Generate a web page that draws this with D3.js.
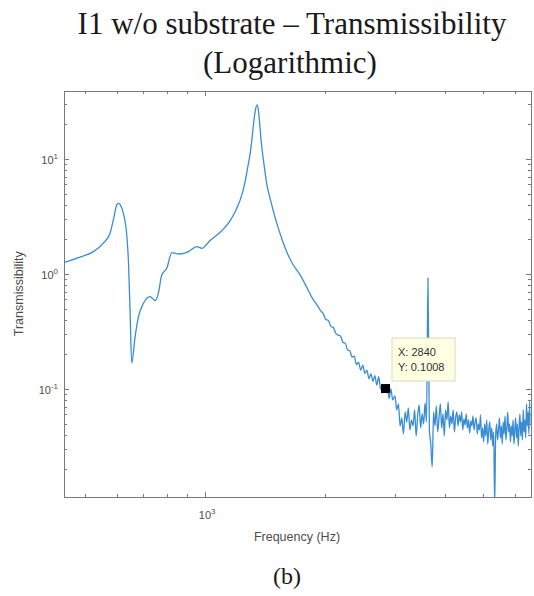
<!DOCTYPE html>
<html>
<head>
    <meta charset="utf-8">
    <title>I1 w/o substrate - Transmissibility</title>
    <script type="text/javascript" src="https://cdnjs.cloudflare.com/ajax/libs/d3/7.8.5/d3.min.js"></script>
    <style type="text/css">
        html, body {
            margin: 0;
            padding: 0;
            background: white;
        }
        svg text {
            font-family: Arial, 'Liberation Sans', sans-serif;
        }
        .title text {
            font-family: 'Times New Roman', 'Liberation Serif', serif;
            fill: #1a1a1a;
        }
        .axis path,
        .axis line {
            stroke: #7a7a7a;
            shape-rendering: crispEdges;
        }
    </style>
</head>
<body>
<svg id="chart" width="534" height="596"></svg>
<script type="text/javascript">
    // frequency (Hz) and transmissibility
    var freq = [
        440, 485, 524, 555, 577, 588, 600, 606, 612, 623, 636, 642, 648, 654, 667, 680,
        700, 727, 749, 763, 778, 801, 825, 845, 865, 908, 953, 981, 1029, 1091, 1130, 1156,
        1178, 1200, 1225, 1245, 1260, 1280, 1297, 1310, 1322, 1335, 1350, 1360, 1370, 1380, 1390,
        1410, 1429, 1450, 1470, 1514, 1560, 1604, 1660, 1733, 1800, 1871, 1910,
        1950, 1980, 2010, 2040, 2070, 2100, 2130, 2160, 2190, 2220, 2250, 2280, 2310, 2340,
        2370, 2400, 2430, 2460, 2490, 2520, 2550, 2580, 2610, 2640, 2670, 2700, 2730, 2760,
        2790, 2840, 2870, 2900, 2930, 2960,
        3000, 3030, 3060, 3090, 3120, 3150, 3180, 3210, 3240, 3270, 3300, 3330, 3360, 3390,
        3420, 3450, 3480, 3510, 3540, 3570, 3600, 3630, 3660, 3690, 3720, 3750, 3780, 3810,
        3840, 3870, 3900, 3930, 3960, 3990, 4020, 4050, 4080, 4110, 4140, 4170, 4200, 4230,
        4260, 4290, 4320, 4350, 4380, 4410, 4440, 4470, 4500, 4530, 4560, 4590, 4620, 4650,
        4680, 4710, 4740, 4770, 4800, 4830, 4860, 4890, 4920, 4950, 4980, 5010, 5040, 5070,
        5100, 5130, 5160, 5190, 5220, 5250, 5280, 5310, 5340, 5370, 5400, 5430, 5460, 5490,
        5520, 5550, 5580, 5610, 5640, 5670, 5700, 5730, 5760, 5790, 5820, 5850, 5880, 5910,
        5940, 5970, 6000, 6030, 6060, 6090, 6120, 6150, 6180, 6210, 6240, 6270, 6300, 6330,
        6360, 6390, 6420, 6450, 6480, 6510, 6540, 6570, 6600
    ];
    var trans = [
        1.25, 1.397, 1.563, 1.849, 2.26, 2.95, 3.98, 4.10, 3.98, 3.37, 2.11, 1.24, 0.458, 0.168, 0.285, 0.425,
        0.556, 0.635, 0.586, 0.680, 0.980, 1.12, 1.53, 1.50, 1.49, 1.56, 1.73, 1.67, 1.95, 2.3, 2.62, 2.9,
        3.25, 3.7, 4.4, 5.3, 6.3, 8.5, 11.0, 14.5, 19.5, 25.5, 29.5, 27.0, 21.0, 15.5, 12.2,
        8.3, 6.0, 4.8, 4.0, 2.75, 2.0, 1.55, 1.22, 0.98, 0.765, 0.594, 0.538,
        0.480, 0.452, 0.402, 0.394, 0.350, 0.342, 0.304, 0.294, 0.287, 0.254, 0.250, 0.218, 0.215, 0.189,
        0.193, 0.163, 0.171, 0.1457, 0.1607, 0.1367, 0.1455, 0.123, 0.135, 0.1164, 0.1305, 0.1083, 0.128, 0.0996,
        0.1047, 0.1008, 0.1086, 0.0828, 0.100, 0.0802,
        0.0869, 0.0657, 0.0741, 0.0477, 0.0560, 0.0406, 0.0631, 0.0516, 0.0684, 0.0440, 0.0538, 0.0477, 0.0657, 0.0390,
        0.0582, 0.0726, 0.0458, 0.0606, 0.0496, 0.0755, 0.0516, 0.923, 0.0440, 0.0332, 0.021, 0.0631, 0.0477, 0.0711,
        0.0423, 0.0560, 0.0741, 0.0458, 0.0606, 0.0390, 0.0657, 0.0538, 0.0771, 0.0458, 0.0582, 0.0496, 0.0657, 0.0423,
        0.0560, 0.0631, 0.0477, 0.0594, 0.0516, 0.0631, 0.0440, 0.0549, 0.0486, 0.0606, 0.0458, 0.0538, 0.0414, 0.0527,
        0.0477, 0.0582, 0.0440, 0.0516, 0.0560, 0.0406, 0.0496, 0.0440, 0.0594, 0.0375, 0.0458, 0.0346, 0.0496, 0.0390,
        0.0538, 0.0332, 0.0440, 0.0516, 0.0360, 0.0458, 0.0319, 0.0423, 0.0098, 0.0390, 0.0496, 0.0360, 0.0440, 0.0560,
        0.0375, 0.0477, 0.0332, 0.0516, 0.0406, 0.0582, 0.0360, 0.0458, 0.0631, 0.0423, 0.0496, 0.0346, 0.0477, 0.0390,
        0.0538, 0.0332, 0.0440, 0.0560, 0.0375, 0.0496, 0.0319, 0.0458, 0.0606, 0.0390, 0.0516, 0.0360, 0.0657, 0.0423,
        0.0538, 0.0375, 0.0741, 0.0477, 0.0631, 0.0406, 0.0802, 0.0496, 0.0606
    ];

    // axis limits and ticks
    var xLimits = [442, 6570],
        yLimits = [0.0115, 39.3];
    var xMajor = [1000],
        xMinor = [500, 600, 700, 800, 900, 2000, 3000, 4000, 5000, 6000];
    var yMajor = [0.1, 1, 10],
        yMinor = [0.02, 0.03, 0.04, 0.05, 0.06, 0.07, 0.08, 0.09,
                  0.2, 0.3, 0.4, 0.5, 0.6, 0.7, 0.8, 0.9,
                  2, 3, 4, 5, 6, 7, 8, 9, 20, 30];

    // data tip
    var tipX = 2840, tipY = 0.1008;

    var box = {left: 64, top: 90.5, right: 530.5, bottom: 497};
    var svg = d3.select("#chart");

    var x = d3.scaleLog().domain(xLimits).range([box.left, box.right]),
        y = d3.scaleLog().domain(yLimits).range([box.bottom, box.top]);

    // title
    var title = svg.append("g").attr("class", "title");
    title.append("text").attr("x", 292).attr("y", 34)
        .attr("text-anchor", "middle").style("font-size", "31px")
        .text("I1 w/o substrate \u2013 Transmissibility");
    title.append("text").attr("x", 290).attr("y", 73)
        .attr("text-anchor", "middle").style("font-size", "31px")
        .text("(Logarithmic)");

    // axes, ticks inward on all four sides (matlab box style)
    function drawAxis(axisFn, scale, major, minor, transform) {
        var g = svg.append("g").attr("class", "axis").attr("transform", transform);
        g.call(axisFn(scale).tickValues(minor).tickSizeInner(-3).tickSizeOuter(0).tickFormat(""));
        var g2 = svg.append("g").attr("class", "axis").attr("transform", transform);
        g2.call(axisFn(scale).tickValues(major).tickSizeInner(-5).tickSizeOuter(0).tickFormat(""));
        g2.select(".domain").remove();
        return g;
    }
    drawAxis(d3.axisBottom, x, xMajor, xMinor, "translate(0," + box.bottom + ")");
    drawAxis(d3.axisTop, x, xMajor, xMinor, "translate(0," + box.top + ")");
    drawAxis(d3.axisLeft, y, yMajor, yMinor, "translate(" + box.left + ",0)");
    drawAxis(d3.axisRight, y, yMajor, yMinor, "translate(" + box.right + ",0)");

    // tick labels as 10^n
    svg.selectAll(".ylab").data(yMajor).enter().append("text")
        .attr("class", "ylab")
        .attr("x", 58).attr("y", function(d) { return y(d) + 5; })
        .attr("text-anchor", "end")
        .style("font-size", "11px").style("fill", "#4d4d4d")
        .each(function(d) {
            var t = d3.select(this);
            t.append("tspan").text("10");
            t.append("tspan").attr("dy", -5).style("font-size", "8px")
                .text(Math.round(Math.log10(d)));
        });
    svg.selectAll(".xlab").data(xMajor).enter().append("text")
        .attr("class", "xlab")
        .attr("x", function(d) { return x(d) + 2; }).attr("y", 519)
        .attr("text-anchor", "middle")
        .style("font-size", "11px").style("fill", "#4d4d4d")
        .each(function(d) {
            var t = d3.select(this);
            t.append("tspan").text("10");
            t.append("tspan").attr("dy", -5).style("font-size", "8px")
                .text(Math.round(Math.log10(d)));
        });

    // axis titles
    svg.append("text").attr("x", 297).attr("y", 541)
        .attr("text-anchor", "middle").style("font-size", "12.5px").style("fill", "#4d4d4d")
        .text("Frequency (Hz)");
    svg.append("text").attr("transform", "translate(23," + ((box.top + box.bottom) / 2) + ") rotate(-90)")
        .attr("text-anchor", "middle").style("font-size", "12.5px").style("fill", "#4d4d4d")
        .text("Transmissibility");

    // the curve, clipped to the axes
    svg.append("clipPath").attr("id", "plotclip").append("rect")
        .attr("x", box.left).attr("y", box.top)
        .attr("width", box.right - box.left).attr("height", box.bottom - box.top);

    var line = d3.line()
        .x(function(d, i) { return x(freq[i]); })
        .y(function(d) { return y(d); })
        .curve(d3.curveMonotoneX);

    svg.append("path")
        .datum(trans)
        .attr("clip-path", "url(#plotclip)")
        .attr("d", line)
        .attr("fill", "none")
        .attr("stroke", "#3a8dd3")
        .attr("stroke-width", 1.3)
        .attr("stroke-linejoin", "round");

    // data tip marker + box
    svg.append("rect")
        .attr("x", x(tipX) - 4.5).attr("y", y(tipY) - 4.5)
        .attr("width", 9).attr("height", 9)
        .attr("fill", "black");
    var tip = svg.append("g").attr("transform", "translate(392,338)");
    tip.append("rect").attr("width", 63).attr("height", 43)
        .attr("fill", "#ffffe1").attr("stroke", "#d9d9c8");
    tip.append("text").attr("x", 6).attr("y", 18).style("font-size", "11px").style("fill", "#333")
        .text("X: " + tipX);
    tip.append("text").attr("x", 6).attr("y", 33).style("font-size", "11px").style("fill", "#333")
        .text("Y: " + tipY.toFixed(4));

    // panel label
    svg.append("text").attr("class", "panel")
        .attr("x", 287).attr("y", 584)
        .attr("text-anchor", "middle")
        .style("font-family", "'Times New Roman', 'Liberation Serif', serif")
        .style("font-size", "24px").style("fill", "#1a1a1a")
        .text("(b)");
</script>
</body>
</html>
